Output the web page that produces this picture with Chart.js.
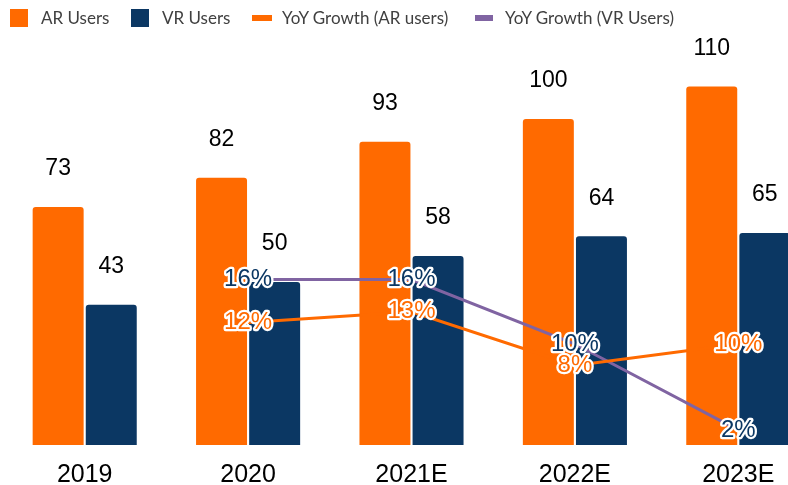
<!DOCTYPE html>
<html>
<head>
<meta charset="utf-8">
<script src="https://cdn.jsdelivr.net/npm/chart.js@4/dist/chart.umd.min.js"></script>
<style>
  html, body { margin: 0; padding: 0; background: #fff; overflow: hidden; }
  #wrap { position: absolute; left: 0; top: 0; width: 822px; height: 485px; }
  #legend { position: absolute; left: 0; top: 0; height: 36px; width: 788px;
    font-family: Lato, "Open Sans", sans-serif; font-size: 17px; color: #404040; }
  .item { position: absolute; top: 0; height: 36px; line-height: 36px; white-space: nowrap; }
  .sw { position: absolute; }
</style>
</head>
<body>
<div id="wrap">
  <canvas id="chart" width="822" height="485"></canvas>
  <div id="legend"></div>
</div>
<script>
// values
const years = ['2019', '2020', '2021E', '2022E', '2023E'];
const arUsers = [73, 82, 93, 100, 110];
const vrUsers = [43, 50, 58, 64, 65];
const arGrowth = [null, 12, 13, 8, 10];
const vrGrowth = [null, 16, 16, 10, 2];

const ORANGE = '#ff6a00';
const NAVY = '#0b3763';
const PURPLE = '#8064a2';

// legend (html, so each key can have its own shape)
(function () {
  const items = [
    { text: 'AR Users', color: ORANGE, x: 10, w: 18, h: 18, tx: 41 },
    { text: 'VR Users', color: NAVY, x: 131, w: 18, h: 18, tx: 162 },
    { text: 'YoY Growth (AR users)', color: ORANGE, x: 252, w: 20, h: 6, tx: 282 },
    { text: 'YoY Growth (VR Users)', color: PURPLE, x: 475, w: 18, h: 6, tx: 505 },
  ];
  const lg = document.getElementById('legend');
  items.forEach((it) => {
    const sw = document.createElement('div');
    sw.className = 'sw';
    sw.style.left = it.x + 'px';
    sw.style.top = (18 - it.h / 2) + 'px';
    sw.style.width = it.w + 'px';
    sw.style.height = it.h + 'px';
    sw.style.background = it.color;
    lg.appendChild(sw);
    const t = document.createElement('div');
    t.className = 'item';
    t.style.left = it.tx + 'px';
    t.textContent = it.text;
    lg.appendChild(t);
  });
})();

// draws value labels above bars and % labels on the line points
const valueLabels = {
  id: 'valueLabels',
  afterDatasetsDraw(chart) {
    const ctx = chart.ctx;
    ctx.save();
    ctx.textAlign = 'center';
    ctx.textBaseline = 'middle';
    chart.data.datasets.forEach((ds, i) => {
      const meta = chart.getDatasetMeta(i);
      meta.data.forEach((el, j) => {
        const v = ds.data[j];
        if (v === null || v === undefined) return;
        if (ds.type === 'line') {
          const txt = v + '%';
          ctx.font = '24px "Liberation Sans", Arial, sans-serif';
          ctx.lineJoin = 'round';
          ctx.lineWidth = 4.5;
          ctx.strokeStyle = '#ffffff';
          ctx.strokeText(txt, el.x, el.y);
          ctx.fillStyle = ds.labelColor;
          ctx.fillText(txt, el.x, el.y);
        } else {
          ctx.font = '23px "Liberation Sans", Arial, sans-serif';
          ctx.fillStyle = '#000000';
          ctx.fillText(String(v), el.x, el.y - 38);
        }
      });
    });
    ctx.restore();
  },
};

new Chart(document.getElementById('chart').getContext('2d'), {
  data: {
    labels: years,
    datasets: [
      {
        type: 'line',
        label: 'YoY Growth (AR users)',
        data: arGrowth,
        yAxisID: 'y1',
        borderColor: ORANGE,
        borderWidth: 3,
        pointRadius: 0,
        labelColor: ORANGE,
        order: 0,
      },
      {
        type: 'line',
        label: 'YoY Growth (VR Users)',
        data: vrGrowth,
        yAxisID: 'y1',
        borderColor: PURPLE,
        borderWidth: 3,
        pointRadius: 0,
        labelColor: NAVY,
        order: 0,
      },
      {
        type: 'bar',
        label: 'AR Users',
        data: arUsers,
        backgroundColor: ORANGE,
        borderRadius: { topLeft: 3, topRight: 3 },
        barPercentage: 0.96,
        categoryPercentage: 0.65,
        order: 1,
      },
      {
        type: 'bar',
        label: 'VR Users',
        data: vrUsers,
        backgroundColor: NAVY,
        borderRadius: { topLeft: 3, topRight: 3 },
        barPercentage: 0.96,
        categoryPercentage: 0.65,
        order: 1,
      },
    ],
  },
  options: {
    responsive: false,
    animation: false,
    layout: { padding: { left: 3, right: 2, top: 37.5, bottom: 0 } },
    plugins: {
      legend: { display: false },
      tooltip: { enabled: false },
    },
    scales: {
      x: {
        grid: { display: false, drawTicks: false },
        border: { display: false },
        ticks: {
          color: '#000000',
          padding: 15,
          font: { family: '"Liberation Sans", Arial, sans-serif', size: 25 },
        },
        afterFit: (scale) => { scale.height = 40; },
      },
      y: {
        display: false,
        min: 0,
        max: 125,
      },
      y1: {
        display: false,
        min: 0.61,
        max: 38.5,
      },
    },
  },
  plugins: [valueLabels],
});
</script>
</body>
</html>
